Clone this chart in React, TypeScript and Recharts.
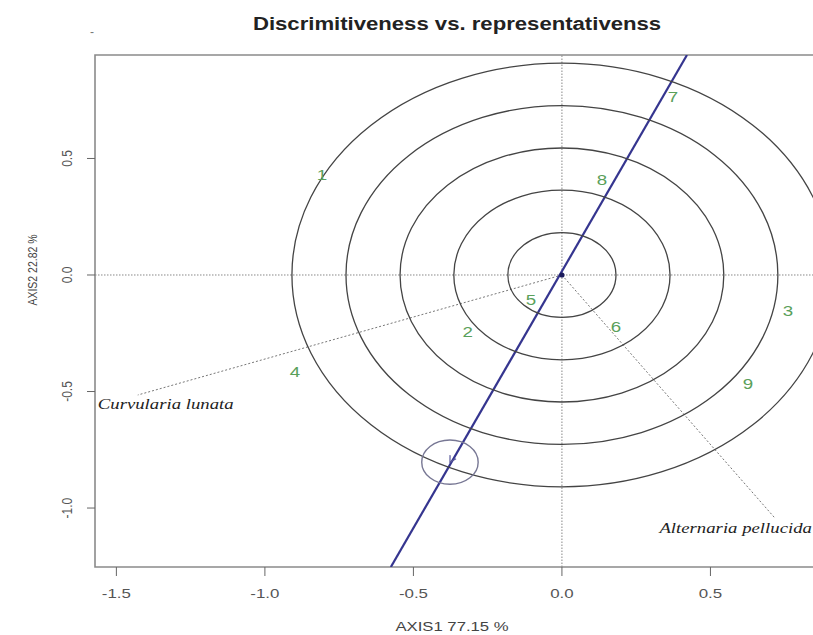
import React from 'react';
import { ScatterChart, Scatter, XAxis, YAxis, ReferenceLine, ReferenceArea } from 'recharts';

// genotype scores (labels drawn in green)
const genotypeLabels = ['1', '2', '3', '4', '5', '6', '7', '8', '9'];
const genotypeAxis1 = [-0.808, -0.317, 0.761, -0.899, -0.104, 0.182, 0.374, 0.135, 0.626];
const genotypeAxis2 = [0.429, -0.245, -0.155, -0.416, -0.107, -0.223, 0.764, 0.408, -0.468];

// environment vectors
const environmentNames = ['Curvularia lunata', 'Alternaria pellucida'];
const environmentAxis1 = [-1.428, 0.717];
const environmentAxis2 = [-0.515, -1.043];

// concentric rings around the origin
const ringRadii = [0.182, 0.364, 0.545, 0.727, 0.909];

// average environment and its small circle
const averageAxis1 = [-0.377];
const averageAxis2 = [-0.803];
const averageRadius = 0.095;

// average environment axis, read at the plot edges
const aeaAxis1 = [-0.576, 0.421];
const aeaAxis2 = [-1.253, 0.944];

const xTicks = [-1.5, -1.0, -0.5, 0.0, 0.5];
const yTicks = [-1.0, -0.5, 0.0, 0.5];

const X_MIN = -1.572;
const X_MAX = 0.852;
const Y_MIN = -1.253;
const Y_MAX = 0.944;

const PLOT_W = 720;
const PLOT_H = 512;
const KX = PLOT_W / (X_MAX - X_MIN);
const KY = PLOT_H / (Y_MAX - Y_MIN);
const S = 1.25; // horizontal stretch of the original image

const genotypes = genotypeLabels.map((label, i) => ({ label, x: genotypeAxis1[i], y: genotypeAxis2[i] }));
const environments = environmentNames.map((name, i) => ({ name, x: environmentAxis1[i], y: environmentAxis2[i] }));
const rings = ringRadii.map((r) => ({ x: 0, y: 0, r }));
const average = averageAxis1.map((x, i) => ({ x, y: averageAxis2[i], r: averageRadius }));
const aeaSegment = aeaAxis1.map((x, i) => ({ x, y: aeaAxis2[i] }));

const envLabelStyle = [
  { dx: -40, dy: 14, anchor: 'start' },
  { dx: 37, dy: 15, anchor: 'end' },
];

const XTick = ({ x, y, payload }: any) => (
  <g transform={`translate(${x},${y}) scale(${S},1)`}>
    <text textAnchor="middle" dy="0.71em" fontSize={13.5} fill="#555" fontFamily="Liberation Sans, Arial, sans-serif">
      {Number(payload.value).toFixed(1)}
    </text>
  </g>
);

const YTick = ({ x, y, payload }: any) => (
  <g transform={`translate(${x},${y}) scale(${S},1) rotate(-90)`}>
    <text textAnchor="middle" fontSize={12} fill="#555" fontFamily="Liberation Sans, Arial, sans-serif">
      {Number(payload.value).toFixed(1)}
    </text>
  </g>
);

const Ring = (props: any) => (
  <ellipse cx={props.cx} cy={props.cy} rx={props.payload.r * KX} ry={props.payload.r * KY} fill="none" stroke="#444" strokeWidth={1.3} />
);

const AverageCircle = (props: any) => {
  const { cx, cy, payload } = props;
  // arrow head pointing away from the origin
  const vx = -payload.x * KX;
  const vy = payload.y * KY;
  const len = Math.hypot(vx, vy);
  const ux = vx / len;
  const uy = vy / len;
  const a = Math.PI / 6;
  const h = 7;
  const p1 = [cx + h * (ux * Math.cos(a) - uy * Math.sin(a)), cy + h * (ux * Math.sin(a) + uy * Math.cos(a))];
  const p2 = [cx + h * (ux * Math.cos(-a) - uy * Math.sin(-a)), cy + h * (ux * Math.sin(-a) + uy * Math.cos(-a))];
  return (
    <g>
      <ellipse cx={cx} cy={cy} rx={payload.r * KX} ry={payload.r * KY} fill="none" stroke="#777794" strokeWidth={1.4} />
      <path d={`M${p1[0]},${p1[1]} L${cx},${cy} L${p2[0]},${p2[1]}`} fill="none" stroke="#5a5a9a" strokeWidth={1.2} />
    </g>
  );
};

const GenotypeLabel = (props: any) => (
  <g transform={`translate(${props.cx},${props.cy}) scale(${S},1)`}>
    <text textAnchor="middle" dominantBaseline="central" fontSize={15} fill="#5aa05a" fontFamily="Liberation Sans, Arial, sans-serif">
      {props.payload.label}
    </text>
  </g>
);

const EnvLabel = (props: any) => {
  const i = environmentNames.indexOf(props.payload.name);
  const st = envLabelStyle[i];
  return (
    <g transform={`translate(${props.cx + st.dx},${props.cy + st.dy}) scale(${S},1)`}>
      <text textAnchor={st.anchor as any} fontSize={15} fontStyle="italic" fill="#222" fontFamily="Liberation Serif, Times New Roman, serif">
        {props.payload.name}
      </text>
    </g>
  );
};

const OriginDot = (props: any) => <circle cx={props.cx} cy={props.cy} r={2.6} fill="#1c1c5c" />;

const App: React.FC = () => {
  return (
    <div style={{ position: 'fixed', left: 0, top: 0, width: 813, height: 635, overflow: 'hidden', background: '#fff' }}>
      <ScatterChart width={830} height={635} margin={{ top: 55, right: 15, bottom: 28, left: 25 }}>
        <XAxis
          type="number"
          dataKey="x"
          domain={[X_MIN, X_MAX]}
          allowDataOverflow
          ticks={xTicks}
          tick={<XTick />}
          tickSize={9}
          tickMargin={12}
          tickLine={{ stroke: '#666' }}
          axisLine={false}
          height={40}
        />
        <YAxis
          type="number"
          dataKey="y"
          domain={[Y_MIN, Y_MAX]}
          allowDataOverflow
          ticks={yTicks}
          tick={<YTick />}
          tickSize={8}
          tickMargin={15}
          tickLine={{ stroke: '#666' }}
          axisLine={false}
          width={70}
        />
        <ReferenceArea x1={X_MIN} x2={X_MAX} y1={Y_MIN} y2={Y_MAX} fill="none" fillOpacity={0} stroke="#8a8a8a" strokeWidth={1.6} />
        <ReferenceLine x={0} stroke="#888" strokeDasharray="1.5 1.5" />
        <ReferenceLine y={0} stroke="#888" strokeDasharray="1.5 1.5" />
        {environments.map((e) => (
          <ReferenceLine key={e.name} segment={[{ x: 0, y: 0 }, { x: e.x, y: e.y }]} stroke="#777" strokeDasharray="2 2" />
        ))}
        <Scatter data={rings} shape={<Ring />} isAnimationActive={false} />
        <ReferenceLine segment={aeaSegment} stroke="#35358f" strokeWidth={2.2} ifOverflow="hidden" />
        <Scatter data={average} shape={<AverageCircle />} isAnimationActive={false} />
        <Scatter data={[{ x: 0, y: 0 }]} shape={<OriginDot />} isAnimationActive={false} />
        <Scatter data={genotypes} shape={<GenotypeLabel />} isAnimationActive={false} />
        <Scatter data={environments} shape={<EnvLabel />} isAnimationActive={false} />
      </ScatterChart>
      <svg width={813} height={635} style={{ position: 'absolute', left: 0, top: 0, pointerEvents: 'none' }}>
        <text x={92} y={36} fontSize={12} fill="#777" textAnchor="middle" fontFamily="Liberation Sans, Arial, sans-serif">-</text>
        <g transform={`translate(457,30) scale(1.23,1)`}>
          <text textAnchor="middle" fontSize={18} fontWeight="bold" fill="#222" fontFamily="Liberation Sans, Arial, sans-serif">
            Discrimitiveness vs. representativenss
          </text>
        </g>
        <g transform={`translate(452,631) scale(1.22,1)`}>
          <text textAnchor="middle" fontSize={13.7} fill="#444" fontFamily="Liberation Sans, Arial, sans-serif">
            AXIS1 77.15 %
          </text>
        </g>
        <g transform={`translate(37,270) scale(${S},1) rotate(-90)`}>
          <text textAnchor="middle" fontSize={10.5} fill="#444" fontFamily="Liberation Sans, Arial, sans-serif">
            AXIS2 22.82 %
          </text>
        </g>
      </svg>
    </div>
  );
};

export default App;
